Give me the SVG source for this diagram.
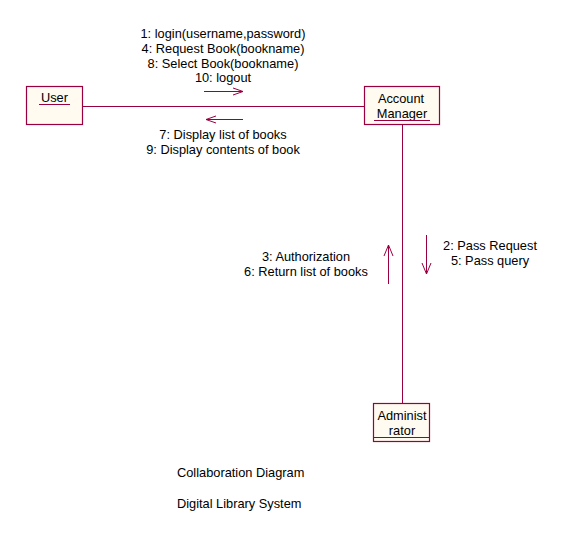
<svg xmlns="http://www.w3.org/2000/svg" width="566" height="535" viewBox="0 0 566 535">
<style>
  .box { fill: #FFFBF0; stroke: #990040; stroke-width: 1.2; }
  .ul { stroke: #990040; stroke-width: 1; }
  .link { stroke: #990040; stroke-width: 1; fill: none; }
  .msg { stroke: #990040; stroke-width: 1; fill: none; }
  text { font-family: "Liberation Sans", Arial, sans-serif; font-size: 12.8px; fill: #000; }
  .c { text-anchor: middle; }
</style>
<rect width="566" height="535" fill="#FFFFFF"/>
<g id="connectors">
  <line class="link" x1="83" y1="106.5" x2="364" y2="106.5"/>
  <line class="link" x1="402.5" y1="125" x2="402.5" y2="403"/>
  <!-- message arrows -->
  <path class="msg" d="M204 91.5 H243 M233 88 L243 91.5 L233 95"/>
  <path class="msg" d="M243 119.5 H206 M216 116 L206 119.5 L216 123"/>
  <path class="msg" d="M388.5 284 V245 M384 256 L388.5 245 L393 256"/>
  <path class="msg" d="M426.5 235 V274 M422 263 L426.5 274 L431 263"/>
  <text class="c" x="223" y="38">1: login(username,password)</text>
  <text class="c" x="223" y="53">4: Request Book(bookname)</text>
  <text class="c" x="223" y="67.5">8: Select Book(bookname)</text>
  <text class="c" x="223" y="82">10: logout</text>
  <text class="c" x="223" y="139">7: Display list of books</text>
  <text class="c" x="223" y="153.5">9: Display contents of book</text>
  <text class="c" x="490" y="249.5">2: Pass Request</text>
  <text class="c" x="490" y="264.5">5: Pass query</text>
  <text class="c" x="306" y="260.5">3: Authorization</text>
  <text class="c" x="306" y="275.5">6: Return list of books</text>
</g>
<g id="user">
  <rect class="box" x="26.5" y="86.5" width="56" height="38"/>
  <text class="c" x="54.5" y="102">User</text>
  <line class="ul" x1="39" y1="104.5" x2="70" y2="104.5"/>
</g>
<g id="account-manager">
  <rect class="box" x="364.5" y="86.5" width="75" height="38"/>
  <text class="c" x="401" y="103">Account</text>
  <text class="c" x="402" y="117.5">Manager</text>
  <line class="ul" x1="374" y1="120.5" x2="430" y2="120.5"/>
</g>
<g id="administrator">
  <rect class="box" x="373.5" y="403.5" width="56" height="38"/>
  <text class="c" x="402" y="419.5">Administ</text>
  <text class="c" x="402" y="434.5">rator</text>
  <line class="ul" x1="374" y1="437.5" x2="429" y2="437.5"/>
</g>
<g id="titles">
  <text x="177" y="476.5">Collaboration Diagram</text>
  <text x="177" y="507.5">Digital Library System</text>
</g>
</svg>
